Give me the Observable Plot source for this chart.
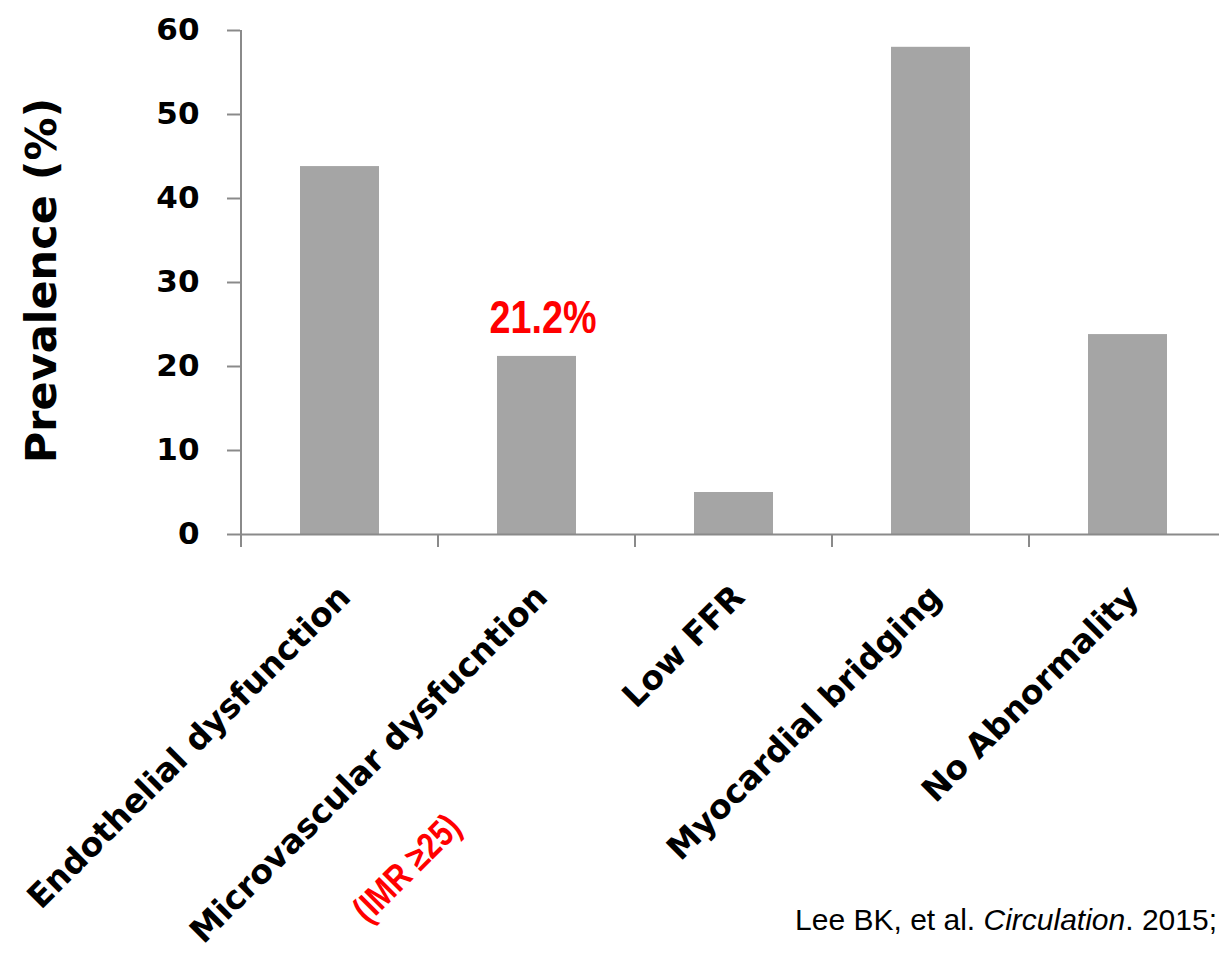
<!DOCTYPE html>
<html>
<head>
<meta charset="utf-8">
<script src="https://cdn.jsdelivr.net/npm/d3@7"></script>
<script src="https://cdn.jsdelivr.net/npm/@observablehq/plot@0.6"></script>
<style>
  html, body { margin: 0; padding: 0; background: #fff; overflow: hidden; }
  #wrap { position: relative; width: 1219px; height: 956px; }
  #cite {
    position: absolute; right: 2px; top: 903px;
    font-family: "Liberation Sans", Arial, sans-serif; font-size: 30px; color: #000;
    white-space: nowrap;
  }
</style>
</head>
<body>
<div id="wrap">
  <div id="chart"></div>
  <div id="cite">Lee BK, et al. <i>Circulation</i>. 2015;</div>
</div>
<script>
// Prevalence of each finding (%)
const categories = [
  "Endothelial dysfunction",
  "Microvascular dysfucntion",
  "Low FFR",
  "Myocardial bridging",
  "No Abnormality"
];
const prevalence = [43.8, 21.2, 5.0, 58.0, 23.8];
const yTicks = [0, 10, 20, 30, 40, 50, 60];
const highlight = { category: "Microvascular dysfucntion", label: "21.2%", note: "(IMR \u226525)" };
const yTitle = "Prevalence (%)";

const rows = categories.map((c, i) => ({ category: c, value: prevalence[i] }));
const axisColor = "#8a8a8a";
const red = "#ff0000";
const highlightRow = rows.filter(d => d.category === highlight.category);

// Left spine plus category-boundary ticks under the baseline
function spineAndBoundaries(index, { x, y }) {
  const gap = (x.step() - x.bandwidth()) / 2;
  const y0 = y(0);
  const g = d3.create("svg:g")
    .attr("stroke", axisColor)
    .attr("stroke-width", 2);
  const left = x(categories[0]) - gap;
  g.append("line")
    .attr("x1", left).attr("x2", left)
    .attr("y1", y(d3.max(yTicks))).attr("y2", y0 + 13);
  for (const c of categories.slice(1)) {
    const bx = x(c) - gap;
    g.append("line")
      .attr("x1", bx).attr("x2", bx)
      .attr("y1", y0).attr("y2", y0 + 13);
  }
  return g.node();
}

const chart = Plot.plot({
  width: 1219,
  height: 956,
  marginLeft: 240,
  marginRight: 0,
  marginTop: 30,
  marginBottom: 422,
  style: { background: "white", fontFamily: "DejaVu Sans" },
  x: {
    type: "band",
    domain: categories,
    range: [240, 1227],
    paddingInner: 0.6,
    paddingOuter: 0.3,
    axis: null
  },
  y: { domain: [0, 60], axis: null },
  marks: [
    Plot.barY(rows, { x: "category", y: "value", fill: "#a5a5a5" }),
    Plot.ruleY([0], { stroke: axisColor, strokeWidth: 2 }),
    spineAndBoundaries,
    Plot.axisY({
      ticks: yTicks,
      tickSize: 13,
      tickPadding: 28,
      stroke: axisColor,
      strokeWidth: 2,
      fill: "#000",
      fontSize: 31,
      fontWeight: "bold",
      fontFamily: "DejaVu Sans",
      label: null
    }),
    Plot.text([yTitle], {
      frameAnchor: "left",
      rotate: -90,
      lineAnchor: "bottom",
      textAnchor: "middle",
      dx: -185,
      dy: -2,
      fontSize: 43,
      fontWeight: "bold",
      fontFamily: "DejaVu Sans",
      fill: "#000"
    }),
    Plot.text(categories, {
      x: d => d,
      frameAnchor: "bottom",
      rotate: -45,
      textAnchor: "end",
      lineAnchor: "middle",
      dx: 5,
      dy: 57,
      fontSize: 33,
      fontWeight: "bold",
      fontFamily: "DejaVu Sans",
      fill: "#000"
    }),
    Plot.text(highlightRow, {
      x: "category",
      y: "value",
      text: () => highlight.label,
      lineAnchor: "bottom",
      textAnchor: "middle",
      dx: 6,
      dy: -23,
      fontSize: 46,
      fontWeight: "bold",
      fontFamily: "Liberation Sans",
      fill: red
    }),
    Plot.text(highlightRow, {
      x: "category",
      frameAnchor: "bottom",
      text: () => highlight.note,
      rotate: -45,
      lineAnchor: "middle",
      textAnchor: "middle",
      dx: -130,
      dy: 334,
      fontSize: 37,
      fontWeight: "bold",
      fontFamily: "Liberation Sans",
      fill: red
    })
  ]
});

document.getElementById("chart").appendChild(chart);

// Red annotations use a narrow face: compress the glyphs horizontally
d3.select(chart).selectAll("text").each(function () {
  if (getComputedStyle(this).fill === "rgb(255, 0, 0)") {
    const len = this.getComputedTextLength();
    this.setAttribute("textLength", (len * 0.82).toFixed(1));
    this.setAttribute("lengthAdjust", "spacingAndGlyphs");
  }
});
</script>
</body>
</html>
